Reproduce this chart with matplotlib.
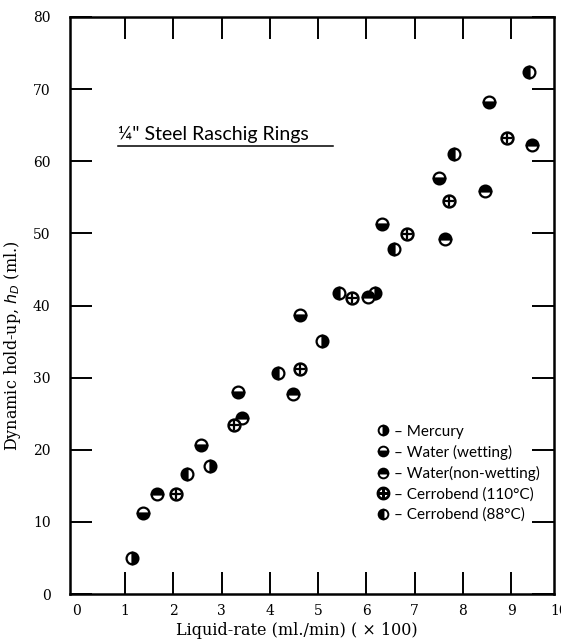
import matplotlib
matplotlib.use("Agg")
import matplotlib.pyplot as plt
from matplotlib.lines import Line2D

# ---- data (liquid rate x100 ml/min, dynamic hold-up ml) ----
merc_x = [1.15, 2.76, 5.09, 6.18]
merc_y = [5.0, 17.7, 35.1, 41.8]

wet_x = [1.37, 2.57, 3.34, 4.62, 6.32, 7.50, 8.54]
wet_y = [11.2, 20.6, 28.0, 38.7, 51.3, 57.7, 68.2]

nonwet_x = [1.65, 3.43, 4.47, 6.04, 7.63, 8.46, 9.44]
nonwet_y = [13.9, 24.4, 27.7, 41.2, 49.2, 55.9, 62.2]

c110_x = [2.05, 3.25, 4.62, 5.71, 6.85, 7.71, 8.91]
c110_y = [13.9, 23.5, 31.2, 41.0, 49.9, 54.5, 63.2]

c88_x = [2.28, 4.17, 5.44, 6.57, 7.81, 9.37]
c88_y = [16.6, 30.7, 41.7, 47.9, 61.0, 72.4]

x_ticks = [1, 2, 3, 4, 5, 6, 7, 8, 9]
x_ticklabels = ["1", "2", "3", "4", "5", "6", "7", "8", "9"]
y_ticks = [0, 10, 20, 30, 40, 50, 60, 70, 80]

labels = ["– Mercury", "– Water (wetting)", "– Water(non-wetting)",
          "– Cerrobend (110°C)", "– Cerrobend (88°C)"]

serif = "DejaVu Serif"
sans = "Lato"

fig = plt.figure(figsize=(5.61, 6.41), dpi=100)
ax = fig.add_axes([70 / 561, 1 - 594 / 641, 484 / 561, 577 / 641])
ax.set_xlim(-0.145, 9.89)
ax.set_ylim(0, 80)

ms = 8.5
common = dict(linestyle="none", marker="o", markersize=ms, color="black",
              markerfacecoloralt="white", markeredgecolor="black",
              markeredgewidth=1.6)
ax.plot(merc_x, merc_y, fillstyle="right", **common)
ax.plot(wet_x, wet_y, fillstyle="bottom", **common)
ax.plot(nonwet_x, nonwet_y, fillstyle="top", **common)
ax.plot(c88_x, c88_y, fillstyle="left", **common)
ax.plot(c110_x, c110_y, linestyle="none", marker="o", markersize=ms,
        markerfacecolor="white", markeredgecolor="black", markeredgewidth=1.8)
ax.plot(c110_x, c110_y, linestyle="none", marker="+", markersize=ms - 1,
        markeredgecolor="black", markeredgewidth=1.6)

# spines & ticks
for s in ax.spines.values():
    s.set_linewidth(1.8)
tfs = 10
ax.set_xticks(x_ticks)
ax.set_xticklabels(x_ticklabels, fontfamily=serif, fontsize=tfs)
ax.set_yticks(y_ticks)
ax.set_yticklabels([str(v) for v in y_ticks], fontfamily=serif, fontsize=tfs)
ax.tick_params(axis="both", direction="in", length=16, width=1.4,
               top=True, right=True)
ax.tick_params(axis="x", pad=7)
ax.tick_params(axis="y", pad=14)
# extra edge labels 0 and 10 (outside the tick range)
for v in (0, 10):
    ax.text(v, -1.35, str(v), ha="center", va="top", fontfamily=serif,
            fontsize=tfs, clip_on=False)

ax.set_xlabel("Liquid-rate (ml./min) ( × 100)", fontfamily=serif,
              fontsize=11.5)
ax.xaxis.set_label_coords(0.469, -0.048)
ax.set_ylabel("Dynamic hold-up, $h_D$ (ml.)", fontfamily=serif,
              fontsize=11.5)
ax.yaxis.set_label_coords(-0.098, 0.43)

# title inside plot, underlined
ax.text(0.099, 0.781, "¼\" Steel Raschig Rings", transform=ax.transAxes,
        fontfamily=sans, fontsize=14, ha="left", va="bottom")
ax.plot([0.099, 0.543], [0.776, 0.776], transform=ax.transAxes,
        color="black", linewidth=1.1)

# legend
lc = dict(linestyle="none", marker="o", markersize=7, color="black",
          markerfacecoloralt="white", markeredgecolor="black",
          markeredgewidth=1.4)
handles = [
    Line2D([], [], fillstyle="right", **lc),
    Line2D([], [], fillstyle="bottom", **lc),
    Line2D([], [], fillstyle="top", **lc),
    Line2D([], [], linestyle="none", marker="$\\oplus$", markersize=9,
           color="black"),
    Line2D([], [], fillstyle="left", **lc),
]
leg = ax.legend(handles, labels, loc="upper left",
                bbox_to_anchor=(0.613, 0.312), frameon=False,
                handlelength=0.8, handletextpad=0.3, labelspacing=0.4,
                borderpad=0.2, prop={"family": sans, "size": 11})

fig.savefig("out.png", dpi=100)
